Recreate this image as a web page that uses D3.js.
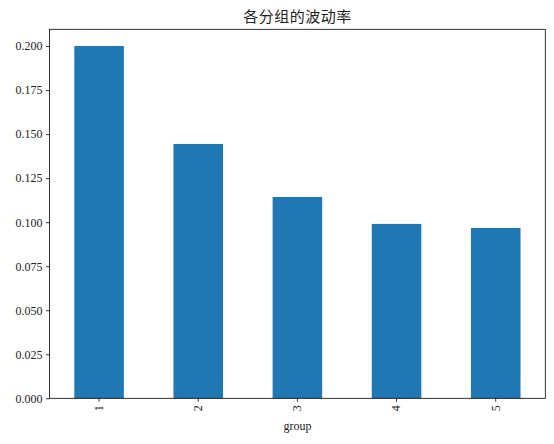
<!DOCTYPE html>
<html><head><meta charset="utf-8">
<script src="https://cdn.jsdelivr.net/npm/d3@7"></script>
<style>
body{margin:0;background:#fff;}
text{font-family:"Liberation Serif","Noto Sans CJK SC",serif;}
</style></head>
<body><svg id="c" width="554" height="444"></svg>
<script>
const groups = ["1","2","3","4","5"];
const volatility = [0.2000, 0.1444, 0.1143, 0.0990, 0.0967];
const yTicks = [0.000,0.025,0.050,0.075,0.100,0.125,0.150,0.175,0.200];
const titleText = "各分组的波动率";
const xLabel = "group";

const svg = d3.select("#c");
const m = {l:49.5, r:545.3, t:29.3, b:398.3};
const x = d3.scaleBand().domain(groups).range([m.l, m.r]).paddingInner(0.5).paddingOuter(0.25);
const y = d3.scaleLinear().domain([0, 0.2095]).range([m.b, m.t]);

svg.selectAll("rect.bar").data(groups).join("rect").attr("class","bar")
  .attr("x", d=>x(d)).attr("width", x.bandwidth())
  .attr("y", (d,i)=>y(volatility[i])).attr("height", (d,i)=>m.b - y(volatility[i]))
  .attr("fill","#1f77b4");

const yAxis = svg.append("g").attr("transform",`translate(${m.l},0)`)
  .call(d3.axisLeft(y).tickValues(yTicks).tickFormat(d3.format(".3f")).tickSize(3.5).tickPadding(3.5));
yAxis.select(".domain").remove();
yAxis.selectAll("text").attr("font-size","12px").attr("fill","#222").attr("font-family","Liberation Serif");
yAxis.selectAll("line").attr("stroke","#000").attr("stroke-width",0.8);

const xAxis = svg.append("g").attr("transform",`translate(0,${m.b})`)
  .call(d3.axisBottom(x).tickSize(3.5).tickPadding(3.5));
xAxis.select(".domain").remove();
xAxis.selectAll("line").attr("stroke","#000").attr("stroke-width",0.8);
xAxis.selectAll("text").attr("font-size","12px").attr("fill","#222").attr("font-family","Liberation Serif")
  .attr("transform","rotate(-90)").attr("text-anchor","end").attr("dy","0.32em").attr("x",-7).attr("y",0);

svg.append("rect").attr("x",m.l).attr("y",m.t).attr("width",m.r-m.l).attr("height",m.b-m.t)
  .attr("fill","none").attr("stroke","#000").attr("stroke-width",0.8);

svg.append("text").attr("x",(m.l+m.r)/2).attr("y",22).attr("text-anchor","middle")
  .attr("font-size","15px").attr("letter-spacing","0.5px").attr("fill","#222")
  .attr("font-family","Noto Sans CJK SC").text(titleText);

svg.append("text").attr("x",(m.l+m.r)/2).attr("y",430).attr("text-anchor","middle")
  .attr("font-size","12px").attr("fill","#222").text(xLabel);
</script></body></html>
